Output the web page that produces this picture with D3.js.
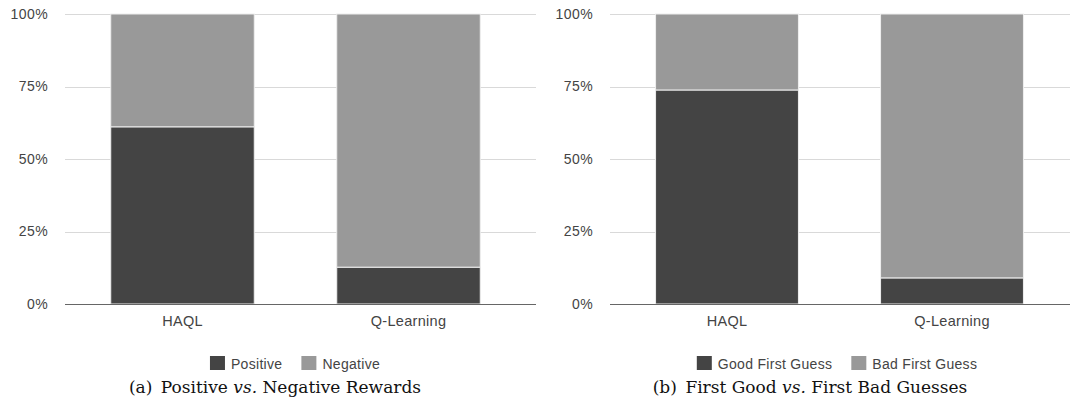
<!DOCTYPE html>
<html>
<head>
<meta charset="utf-8">
<script src="https://cdn.jsdelivr.net/npm/d3@7/dist/d3.min.js"></script>
<style>
  html, body { margin: 0; padding: 0; background: #fff; }
  svg { display: block; }
</style>
</head>
<body>
<svg id="chart" width="1070" height="409"></svg>
<script>
const categories = ["HAQL", "Q-Learning"];
const rewardsPositive = [61.1, 12.7];
const rewardsNegative = [38.9, 87.3];
const guessGood = [73.8, 9.0];
const guessBad = [26.2, 91.0];
const yTicks = [0, 25, 50, 75, 100];

const panels = [
  { series: [{ name: "Positive", values: rewardsPositive }, { name: "Negative", values: rewardsNegative }],
    capPre: "(a)\u2002Positive ", capIt: "vs.", capPost: " Negative Rewards",
    gridX0: 65, gridX1: 536, band: [69.5, 521.5], labelX: 48, legendCx: 295, capCx: 275 },
  { series: [{ name: "Good First Guess", values: guessGood }, { name: "Bad First Guess", values: guessBad }],
    capPre: "(b)\u2002First Good ", capIt: "vs.", capPost: " First Bad Guesses",
    gridX0: 610, gridX1: 1070, band: [614.5, 1064.5], labelX: 593, legendCx: 837, capCx: 810 }
];
const colors = ["#444444", "#999999"];
const svg = d3.select("#chart");
const y = d3.scaleLinear().domain([0, 100]).range([304, 14]);
const sans = "Liberation Sans, Arial, sans-serif";

panels.forEach(p => {
  const g = svg.append("g");
  const x = d3.scaleBand().domain(categories).range(p.band).paddingInner(0.365).paddingOuter(0.1825);
  g.selectAll("line.grid").data(yTicks.filter(t => t > 0)).join("line")
    .attr("x1", p.gridX0).attr("x2", p.gridX1)
    .attr("y1", d => Math.round(y(d)) + 0.5).attr("y2", d => Math.round(y(d)) + 0.5)
    .attr("stroke", "#d9d9d9").attr("stroke-width", 1);
  g.selectAll("text.ylab").data(yTicks).join("text")
    .attr("x", p.labelX).attr("y", d => y(d)).attr("dy", "0.35em")
    .attr("text-anchor", "end").attr("font-family", sans).attr("font-size", 14)
    .attr("letter-spacing", 0.4).attr("fill", "#444").text(d => d + "%");
  const table = categories.map((c, i) => {
    const row = { cat: c };
    p.series.forEach(s => row[s.name] = s.values[i]);
    return row;
  });
  const stack = d3.stack().keys(p.series.map(s => s.name))(table);
  stack.forEach((layer, li) => {
    g.selectAll(null).data(layer).join("rect")
      .attr("x", d => x(d.data.cat)).attr("width", x.bandwidth())
      .attr("y", d => y(d[1])).attr("height", d => y(d[0]) - y(d[1]))
      .attr("fill", colors[li]).attr("stroke", "#eeeeee").attr("stroke-width", 1);
  });
  g.append("line").attr("x1", p.gridX0).attr("x2", p.gridX1)
    .attr("y1", 304.5).attr("y2", 304.5).attr("stroke", "#666").attr("stroke-width", 1);
  g.selectAll("text.xlab").data(categories).join("text")
    .attr("x", d => x(d) + x.bandwidth() / 2).attr("y", 326)
    .attr("text-anchor", "middle").attr("font-family", sans).attr("font-size", 14.5)
    .attr("letter-spacing", 0.3).attr("fill", "#444").text(d => d);
  const lg = g.append("g");
  let cx = 0;
  p.series.forEach((s, i) => {
    const it = lg.append("g").attr("transform", `translate(${cx},0)`);
    it.append("rect").attr("x", 0).attr("y", 356).attr("width", 15).attr("height", 14).attr("fill", colors[i]);
    const t = it.append("text").attr("x", 21).attr("y", 368.5).attr("font-family", sans)
      .attr("font-size", 14).attr("letter-spacing", 0.3).attr("fill", "#444").text(s.name);
    const w = t.node().getComputedTextLength();
    cx += 21 + w + 19;
  });
  const totalW = cx - 19;
  lg.attr("transform", `translate(${p.legendCx - totalW / 2},0)`);
  const cap = g.append("text").attr("x", p.capCx).attr("y", 393).attr("text-anchor", "middle")
    .attr("font-family", "DejaVu Serif, serif").attr("font-size", 17).attr("fill", "#111");
  cap.append("tspan").text(p.capPre);
  cap.append("tspan").attr("font-style", "italic").text(p.capIt);
  cap.append("tspan").text(p.capPost);
});
</script>
</body>
</html>
